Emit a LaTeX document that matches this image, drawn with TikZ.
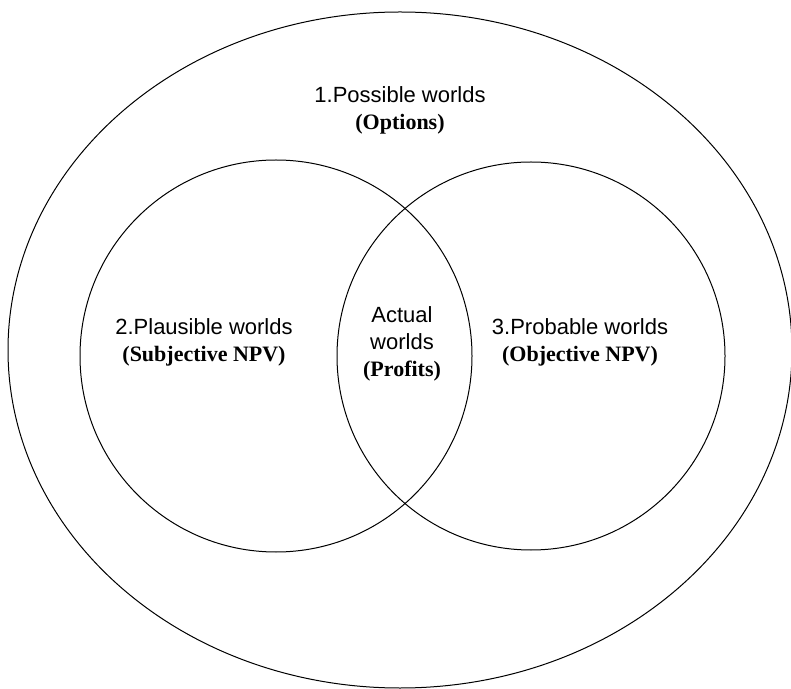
\documentclass[tikz,border=0pt]{standalone}
\usepackage{fontspec}
\setmainfont{Liberation Serif}
\setsansfont{Liberation Sans}
\usepackage{tikz}

\tikzset{
  worldtext/.style={align=center, font=\sffamily\fontsize{22}{27}\selectfont},
  worldline/.style={line width=1}
}
\newcommand{\worldkey}[1]{{\rmfamily\bfseries #1}}

\begin{document}
\begin{tikzpicture}[x=1pt,y=1pt]

\useasboundingbox (0,0) rectangle (791,688);

% outer set and the two overlapping sets
\draw[worldline] (400,338) ellipse [x radius=392, y radius=338];
\draw[worldline] (276,332) circle [radius=196];
\draw[worldline] (531,332) circle [radius=194];

\node[worldtext] (possible) at (400,578) {1.Possible worlds\\ \worldkey{(Options)}};
\node[worldtext] (plausible) at (204,346) {2.Plausible worlds\\ \worldkey{(Subjective NPV)}};
\node[worldtext] (actual) at (402,344) {Actual\\ worlds\\ \worldkey{(Profits)}};
\node[worldtext] (probable) at (580,346) {3.Probable worlds\\ \worldkey{(Objective NPV)}};

\end{tikzpicture}
\end{document}
